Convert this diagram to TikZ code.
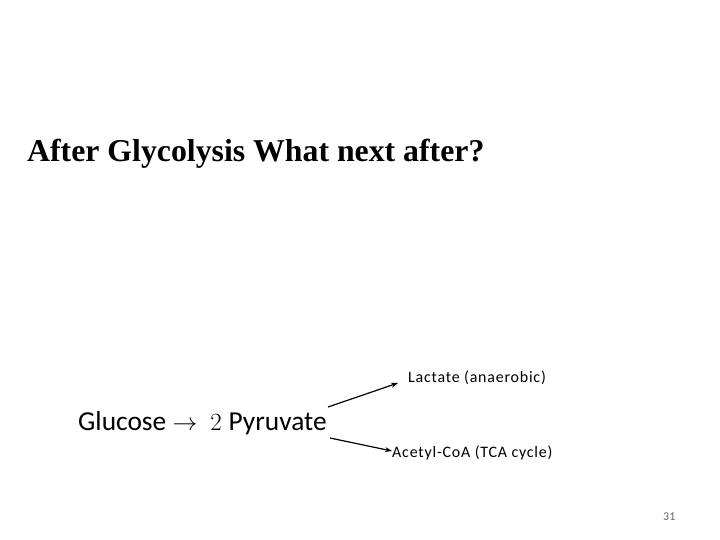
\documentclass[tikz,border=0pt]{standalone}
\usepackage{fontspec}
\setmainfont{Carlito}
\newfontfamily\titlefont{Liberation Serif}
\newfontfamily\spacedfont[LetterSpace=5]{Carlito}
\usetikzlibrary{arrows.meta}
\begin{document}
\begin{tikzpicture}[x=1bp,y=-1bp,
  title/.style={anchor=base west,inner sep=0pt,font=\titlefont\bfseries\fontsize{31.9}{36}\selectfont},
  main/.style={anchor=base west,inner sep=0pt,font=\fontsize{27.5}{32}\selectfont},
  small/.style={anchor=base west,inner sep=0pt,font=\spacedfont\fontsize{16}{18}\selectfont},
  pnum/.style={anchor=base west,inner sep=0pt,font=\fontsize{12}{14}\selectfont,text=black!60},
  conn/.style={line width=1.2bp,-{Stealth[length=7bp,width=5bp]}}]
\useasboundingbox (0,0) rectangle (720,540);
\node[title] (t) at (27,162) {After Glycolysis What next after?};
\node[main] (g) at (78,430) {Glucose $\rightarrow$\hspace{13bp}$2$\hspace{7bp}Pyruvate};
\node[small] (l) at (408,382) {Lactate (anaerobic)};
\node[small] (a) at (392,457) {Acetyl-CoA (TCA cycle)};
\node[pnum] (n) at (663,520) {31};
\coordinate (s1) at (328,407);
\coordinate (e1) at (398,383);
\coordinate (s2) at (330,438);
\coordinate (e2) at (392,451);
\draw[conn] (s1) -- (e1);
\draw[conn] (s2) -- (e2);
\end{tikzpicture}
\end{document}
